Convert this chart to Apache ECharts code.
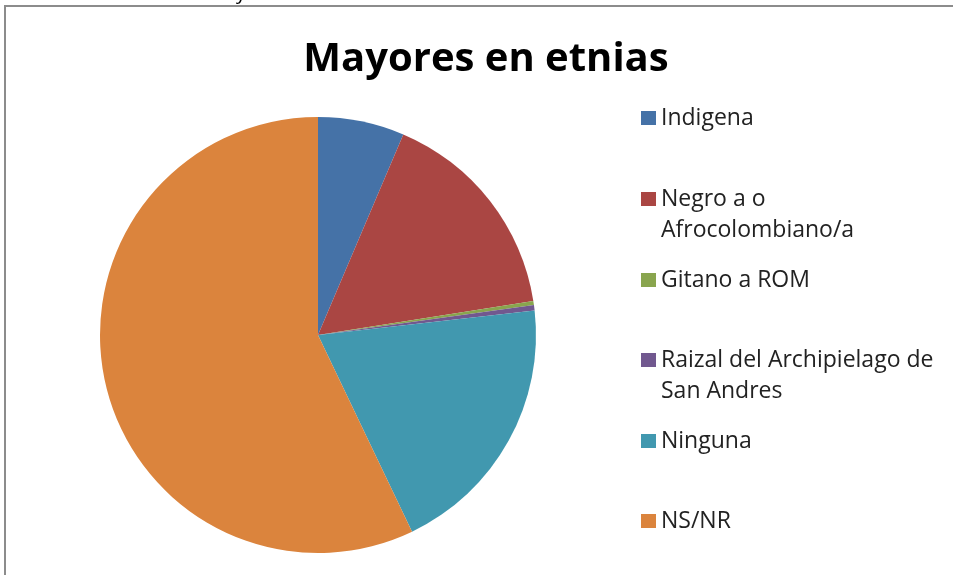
<!DOCTYPE html>
<html>
<head>
<meta charset="utf-8">
<script src="https://cdn.jsdelivr.net/npm/echarts@6/dist/echarts.min.js"></script>
<style>
    html, body { margin: 0; padding: 0; background: #fff; }
    #chart { width: 953px; height: 575px; }
</style>
</head>
<body>
<div id="chart"></div>
<script>
var categories = ['Indigena', 'Negro a o Afrocolombiano/a', 'Gitano a ROM', 'Raizal del Archipielago de San Andres', 'Ninguna', 'NS/NR'];
// legend text as it wraps in the original: first line next to the marker, then the rest
var legendFirstLines = ['Indigena', 'Negro a o', 'Gitano a ROM', 'Raizal del Archipielago de', 'Ninguna', 'NS/NR'];
var legendSecondLines = ['', 'Afrocolombiano/a', '', 'San Andres', '', ''];
var values = [6.4, 16.1, 0.3, 0.4, 19.7, 57.1];
var colors = ['#4572A7', '#AA4643', '#89A54E', '#71588F', '#4198AF', '#DB843D'];

;
(function() {
    var chart = echarts.init(document.getElementById('chart'));
    var font = 'Open Sans';
    var textLeft = 661;

    // one legend per entry so the uneven spacing of the original can be kept
    var rowCenters = [118, 199, 280, 360, 441, 521];
    var legends = [];
    var extraText = [];
    for (var i = 0; i < categories.length; i++) {
        legends.push({
            data: [categories[i]],
            left: 636,
            top: rowCenters[i] - 21,
            icon: 'rect',
            itemWidth: 15,
            itemHeight: 14,
            selectedMode: false,
            formatter: (function(lbl) {
                return function() { return lbl; };
            })(legendFirstLines[i]),
            textStyle: {
                fontFamily: font,
                fontSize: 23,
                color: '#222',
                lineHeight: 32
            }
        });
        if (legendSecondLines[i]) {
            extraText.push({
                type: 'text',
                x: textLeft,
                y: rowCenters[i] + 31.5,
                silent: true,
                style: {
                    text: legendSecondLines[i],
                    fontFamily: font,
                    fontSize: 23,
                    fill: '#222',
                    verticalAlign: 'middle'
                }
            });
        }
    }

    var data = [];
    for (var j = 0; j < categories.length; j++) {
        data.push({ name: categories[j], value: values[j] });
    }

    chart.setOption({
        animation: false,
        color: colors,
        title: {
            text: 'Mayores en etnias',
            left: 481,
            textAlign: 'center',
            top: 35,
            textStyle: {
                fontFamily: font,
                fontWeight: 'bold',
                fontSize: 40,
                color: '#000'
            }
        },
        legend: legends,
        graphic: [{
            type: 'rect',
            shape: { x: 5, y: 6, width: 1000, height: 700 },
            style: { fill: null, stroke: '#8c8c8c', lineWidth: 2 },
            silent: true
        }, {
            type: 'text',
            left: 236,
            top: -17,
            style: { text: 'y', fontFamily: font, fontSize: 20, fill: '#000' },
            silent: true
        }].concat(extraText),
        series: [{
            type: 'pie',
            center: [318, 335],
            radius: 218,
            startAngle: 90,
            clockwise: true,
            label: { show: false },
            labelLine: { show: false },
            itemStyle: { borderWidth: 0 },
            emphasis: { disabled: true },
            data: data
        }]
    });
})();
</script>
</body>
</html>
